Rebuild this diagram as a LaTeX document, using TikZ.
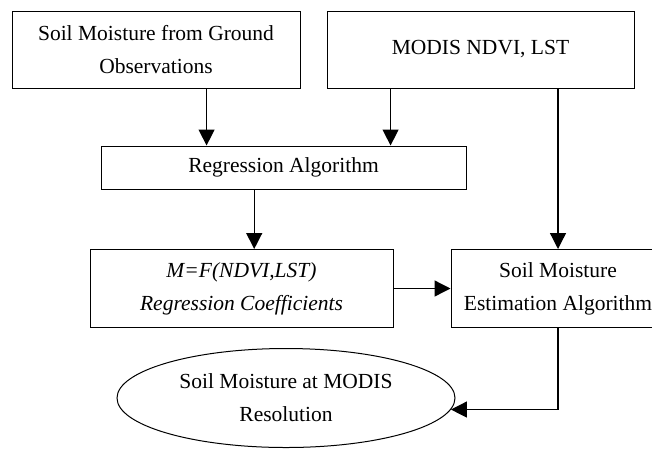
\documentclass[tikz,border=0pt]{standalone}
\usepackage{fontspec}
\setmainfont{Liberation Serif}
\usetikzlibrary{arrows.meta,positioning,shapes.geometric,calc}

\begin{document}
\begin{tikzpicture}[
    x=1pt, y=1pt,
    node distance=26pt,
    every node/.style={font=\fontsize{21.5}{33}\selectfont},
    box/.style={draw, line width=1pt, align=center, inner sep=0pt},
    oval/.style={draw, ellipse, line width=1pt, align=center, inner sep=0pt, minimum width=338pt, minimum height=99pt},
    flow/.style={-{Triangle[length=16pt,width=16pt]}, line width=1.3pt}
]
\useasboundingbox (0,0) rectangle (652,-448);
\node[box, minimum width=288pt, minimum height=77pt] (ground) at (156,-49.5) {Soil Moisture from Ground\\Observations};
\node[box, minimum width=307pt, minimum height=77pt, right=26pt of ground] (modis) {MODIS NDVI, LST};
\node[box, minimum width=365pt, minimum height=43pt] (regr) at (283.5,-167.5) {Regression Algorithm};
\node[box, minimum width=303pt, minimum height=78pt, font=\fontsize{21.5}{33}\selectfont\itshape] (coeff) at (241.5,-288.5) {M=F(NDVI,LST)\\Regression Coefficients};
\node[box, minimum width=214pt, minimum height=78pt, right=57pt of coeff] (sme) {Soil Moisture\\Estimation Algorithm};
\node[oval] (result) at (286,-398) {Soil Moisture at MODIS\\Resolution};
% arrow start points along the box bottoms
\coordinate (g) at ($(ground.south west)!0.675!(ground.south east)$);
\coordinate (m) at ($(modis.south west)!0.208!(modis.south east)$);
\coordinate (r) at ($(regr.south west)!0.42!(regr.south east)$);
\draw[flow] (g) -- (g |- regr.north);
\draw[flow] (m) -- (m |- regr.north);
\draw[flow] (r) -- (r |- coeff.north);
\draw[flow] (modis.south -| sme.north) -- (sme.north);
\draw[flow] (coeff.east) -- (coeff.east -| sme.west);
\draw[flow] (sme.south) |- (result.-4);
\end{tikzpicture}
\end{document}
